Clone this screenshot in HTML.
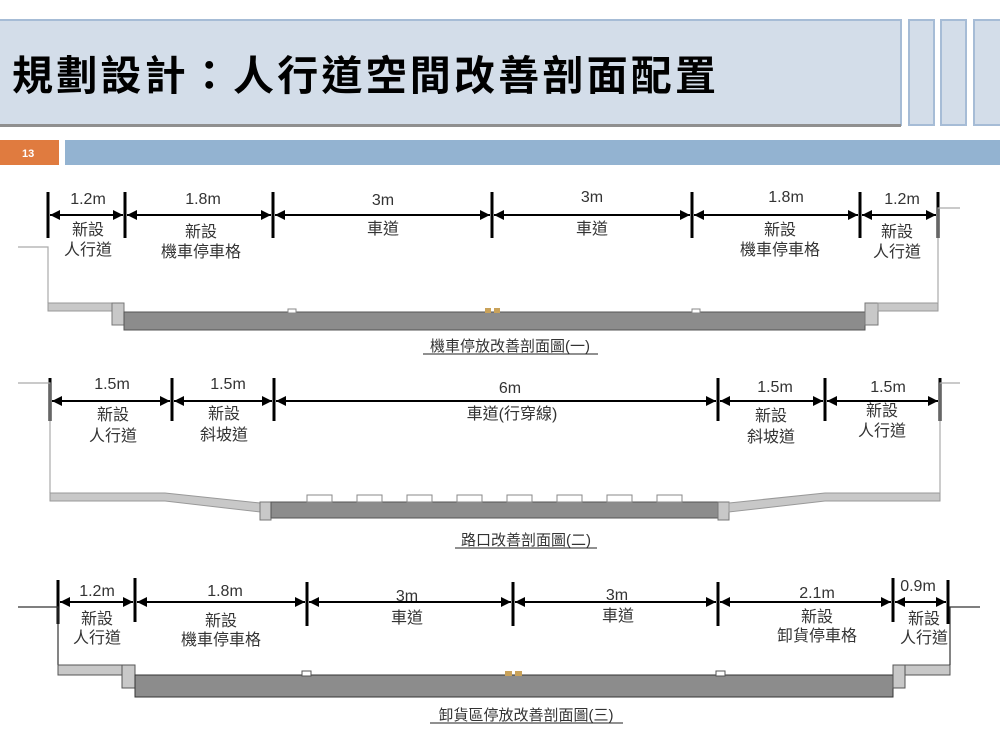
<!DOCTYPE html>
<html><head><meta charset="utf-8"><style>
html,body{margin:0;padding:0;background:#fff;}
svg{display:block;font-family:"Liberation Sans","Noto Sans CJK TC",sans-serif;}
</style></head><body>
<svg width="1000" height="750" viewBox="0 0 1000 750" xmlns="http://www.w3.org/2000/svg">
<defs>
<marker id="a" viewBox="0 0 10 10" refX="10" refY="5" markerWidth="5" markerHeight="5" orient="auto-start-reverse"><path d="M0,0 L10,5 L0,10 z" fill="#000"/></marker>
</defs>
<rect x="-2" y="20" width="903" height="105" fill="#d3dde9" stroke="#a6bcd6" stroke-width="2"/>
<rect x="0" y="124" width="901" height="3" fill="#8f8f8f"/>
<rect x="909" y="20" width="25" height="105" fill="#d3dde9" stroke="#a6bcd6" stroke-width="2"/>
<rect x="941" y="20" width="25" height="105" fill="#d3dde9" stroke="#a6bcd6" stroke-width="2"/>
<rect x="974" y="20" width="28" height="105" fill="#d3dde9" stroke="#a6bcd6" stroke-width="2"/>
<text x="12" y="90" font-size="41" font-weight="bold" letter-spacing="3.2" fill="#000">規劃設計：人行道空間改善剖面配置</text>
<rect x="0" y="140" width="59" height="25" fill="#e07b3f"/>
<text x="22" y="157" font-size="11" font-weight="bold" fill="#fff">13</text>
<rect x="65" y="140" width="935" height="25" fill="#93b3d1"/>

<g font-size="16" fill="#333" text-anchor="middle">
<g stroke="#000" stroke-width="3">
<line x1="48" y1="192" x2="48" y2="238"/><line x1="125" y1="192" x2="125" y2="238"/><line x1="273" y1="192" x2="273" y2="238"/><line x1="492" y1="192" x2="492" y2="238"/><line x1="692" y1="192" x2="692" y2="238"/><line x1="860" y1="192" x2="860" y2="238"/><line x1="938" y1="192" x2="938" y2="238"/>
</g>
<g stroke="#000" stroke-width="2" marker-start="url(#a)" marker-end="url(#a)">
<line x1="50" y1="215" x2="123" y2="215"/><line x1="127" y1="215" x2="271" y2="215"/><line x1="275" y1="215" x2="490" y2="215"/><line x1="494" y1="215" x2="690" y2="215"/><line x1="694" y1="215" x2="858" y2="215"/><line x1="862" y1="215" x2="936" y2="215"/>
</g>
<text x="88" y="204">1.2m</text><text x="203" y="204">1.8m</text><text x="383" y="205">3m</text><text x="592" y="202">3m</text><text x="786" y="202">1.8m</text><text x="902" y="204">1.2m</text>
<text x="88" y="235">新設</text><text x="88" y="255">人行道</text>
<text x="201" y="237">新設</text><text x="201" y="257">機車停車格</text>
<text x="383" y="234">車道</text><text x="592" y="234">車道</text>
<text x="780" y="235">新設</text><text x="780" y="255">機車停車格</text>
<text x="897" y="237">新設</text><text x="897" y="257">人行道</text>
<polyline points="18,247 48,247 48,303" fill="none" stroke="#aaa" stroke-width="1.2"/>
<rect x="48" y="303" width="64" height="8" fill="#c8c8c8" stroke="#999"/>
<rect x="112" y="303" width="12" height="22" fill="#c8c8c8" stroke="#777"/>
<rect x="124" y="312" width="741" height="18" fill="#8c8c8c" stroke="#555"/>
<rect x="865" y="303" width="13" height="22" fill="#c8c8c8" stroke="#777"/>
<rect x="878" y="303" width="60" height="8" fill="#c8c8c8" stroke="#999"/>
<polyline points="938,303 938,208 960,208" fill="none" stroke="#aaa" stroke-width="1.2"/>
<rect x="288" y="309" width="8" height="4" fill="#fff" stroke="#888"/><rect x="692" y="309" width="8" height="4" fill="#fff" stroke="#888"/>
<rect x="485" y="308" width="6" height="5" fill="#c9a25a"/><rect x="494" y="308" width="6" height="5" fill="#c9a25a"/>
<text x="510" y="351" font-size="15">機車停放改善剖面圖(一)</text>
<line x1="423" y1="354" x2="598" y2="354" stroke="#222"/>

<g stroke="#000" stroke-width="3">
<line x1="50" y1="378" x2="50" y2="421"/><line x1="172" y1="378" x2="172" y2="421"/><line x1="274" y1="378" x2="274" y2="421"/><line x1="718" y1="378" x2="718" y2="421"/><line x1="825" y1="378" x2="825" y2="421"/><line x1="940" y1="378" x2="940" y2="421"/>
</g>
<g stroke="#000" stroke-width="2" marker-start="url(#a)" marker-end="url(#a)">
<line x1="52" y1="401" x2="170" y2="401"/><line x1="174" y1="401" x2="272" y2="401"/><line x1="276" y1="401" x2="716" y2="401"/><line x1="720" y1="401" x2="823" y2="401"/><line x1="827" y1="401" x2="938" y2="401"/>
</g>
<text x="112" y="389">1.5m</text><text x="228" y="389">1.5m</text><text x="510" y="393">6m</text><text x="775" y="392">1.5m</text><text x="888" y="392">1.5m</text>
<text x="113" y="420">新設</text><text x="113" y="441">人行道</text>
<text x="224" y="419">新設</text><text x="224" y="440">斜坡道</text>
<text x="512" y="419">車道(行穿線)</text>
<text x="771" y="421">新設</text><text x="771" y="442">斜坡道</text>
<text x="882" y="416">新設</text><text x="882" y="436">人行道</text>
<polyline points="18,383 50,383 50,493" fill="none" stroke="#aaa" stroke-width="1.2"/>
<polygon points="50,493 165,493 260,503 260,512 165,501 50,501" fill="#c8c8c8" stroke="#999"/>
<rect x="260" y="502" width="11" height="18" fill="#c8c8c8" stroke="#777"/>
<rect x="271" y="502" width="447" height="16" fill="#8c8c8c" stroke="#555"/>
<rect x="718" y="502" width="11" height="18" fill="#c8c8c8" stroke="#777"/>
<polygon points="729,503 825,493 940,493 940,501 825,501 729,512" fill="#c8c8c8" stroke="#999"/>
<polyline points="940,493 940,383 960,383" fill="none" stroke="#aaa" stroke-width="1.2"/>
<g fill="#fff" stroke="#888">
<rect x="307" y="495" width="25" height="7"/><rect x="357" y="495" width="25" height="7"/><rect x="407" y="495" width="25" height="7"/><rect x="457" y="495" width="25" height="7"/><rect x="507" y="495" width="25" height="7"/><rect x="557" y="495" width="25" height="7"/><rect x="607" y="495" width="25" height="7"/><rect x="657" y="495" width="25" height="7"/>
</g>
<text x="526" y="545" font-size="15">路口改善剖面圖(二)</text>
<line x1="455" y1="548" x2="597" y2="548" stroke="#222"/>

<g stroke="#000" stroke-width="3">
<line x1="58" y1="580" x2="58" y2="624"/><line x1="135" y1="578" x2="135" y2="622"/><line x1="307" y1="582" x2="307" y2="626"/><line x1="513" y1="582" x2="513" y2="626"/><line x1="718" y1="582" x2="718" y2="626"/><line x1="893" y1="578" x2="893" y2="622"/><line x1="948" y1="580" x2="948" y2="624"/>
</g>
<g stroke="#000" stroke-width="2" marker-start="url(#a)" marker-end="url(#a)">
<line x1="60" y1="602" x2="133" y2="602"/><line x1="137" y1="602" x2="305" y2="602"/><line x1="309" y1="602" x2="511" y2="602"/><line x1="515" y1="602" x2="716" y2="602"/><line x1="720" y1="602" x2="891" y2="602"/><line x1="895" y1="602" x2="946" y2="602"/>
</g>
<text x="97" y="596">1.2m</text><text x="225" y="596">1.8m</text><text x="407" y="601">3m</text><text x="617" y="600">3m</text><text x="817" y="598">2.1m</text><text x="918" y="591">0.9m</text>
<text x="97" y="624">新設</text><text x="97" y="643">人行道</text>
<text x="221" y="626">新設</text><text x="221" y="645">機車停車格</text>
<text x="407" y="623">車道</text><text x="618" y="621">車道</text>
<text x="817" y="622">新設</text><text x="817" y="641">卸貨停車格</text>
<text x="924" y="624">新設</text><text x="924" y="643">人行道</text>
<polyline points="18,607 58,607 58,665" fill="none" stroke="#333" stroke-width="1.2"/>
<rect x="58" y="665" width="64" height="10" fill="#c8c8c8" stroke="#555"/>
<rect x="122" y="665" width="13" height="23" fill="#c8c8c8" stroke="#555"/>
<rect x="135" y="675" width="758" height="22" fill="#8c8c8c" stroke="#333"/>
<rect x="893" y="665" width="12" height="23" fill="#c8c8c8" stroke="#555"/>
<rect x="905" y="665" width="45" height="10" fill="#c8c8c8" stroke="#555"/>
<polyline points="950,665 950,607 980,607" fill="none" stroke="#333" stroke-width="1.2"/>
<rect x="302" y="671" width="9" height="5" fill="#fff" stroke="#555"/><rect x="716" y="671" width="9" height="5" fill="#fff" stroke="#555"/>
<rect x="505" y="671" width="7" height="5" fill="#c9a25a"/><rect x="515" y="671" width="7" height="5" fill="#c9a25a"/>
<text x="526" y="720" font-size="15">卸貨區停放改善剖面圖(三)</text>
<line x1="430" y1="723" x2="623" y2="723" stroke="#222"/>
</g>
</svg>
</body></html>
